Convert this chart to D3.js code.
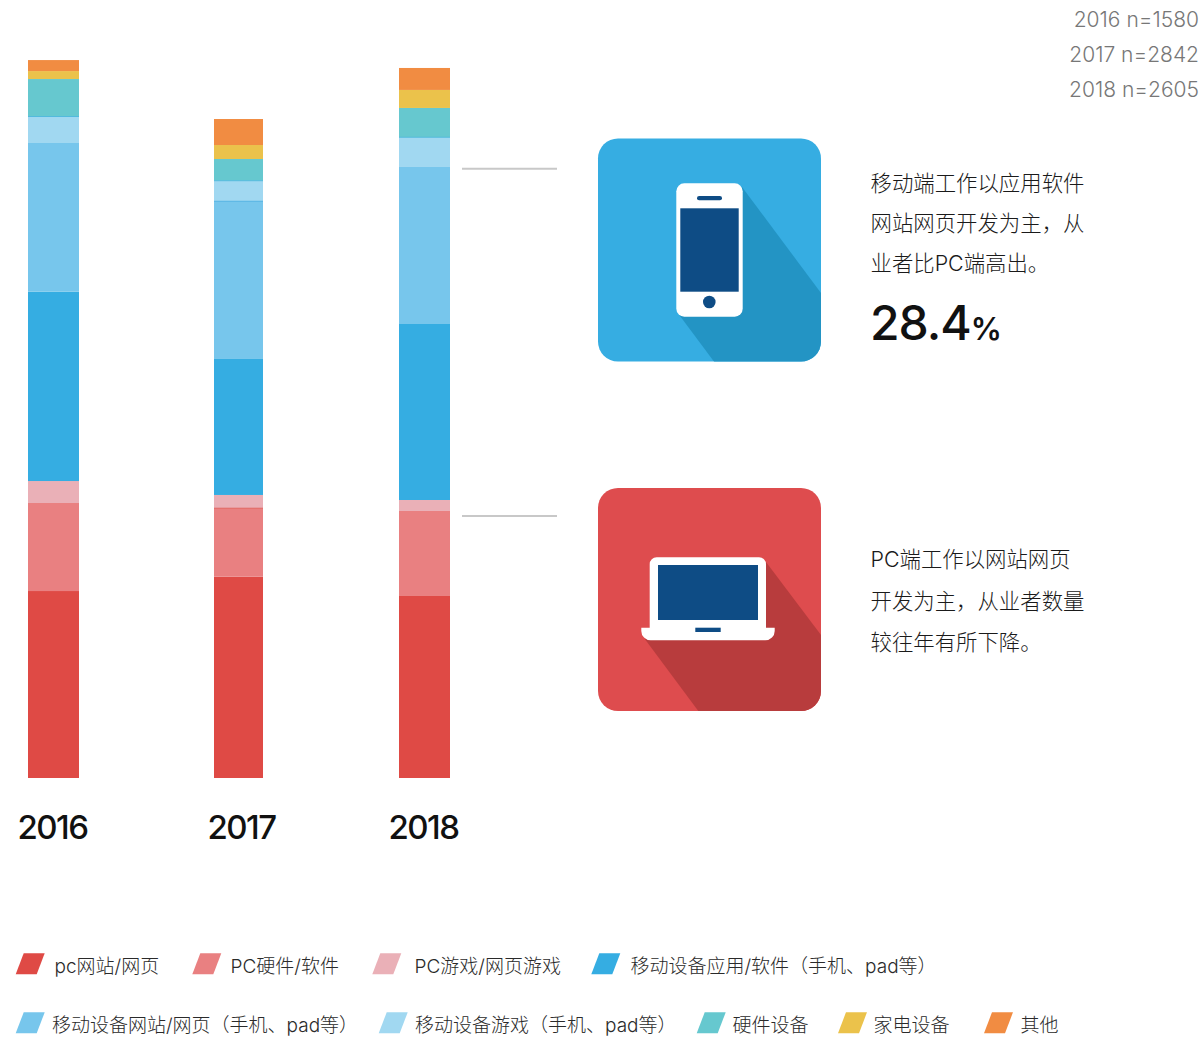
<!DOCTYPE html>
<html>
<head>
<meta charset="utf-8">
<script src="https://cdn.jsdelivr.net/npm/d3@7"></script>
<style>
  html, body { margin: 0; padding: 0; background: #fff; }
  svg { display: block; }
  text { font-family: Inter, "Noto Sans CJK SC", sans-serif; }
</style>
</head>
<body>
<svg></svg>
<script>
// the years and the categories of the stack, bottom to top
var years = ["2016", "2017", "2018"];
var categories = ["pc网站/网页", "PC硬件/软件", "PC游戏/网页游戏", "移动设备应用/软件（手机、pad等）",
  "移动设备网站/网页（手机、pad等）", "移动设备游戏（手机、pad等）", "硬件设备", "家电设备", "其他"];
var colors = ["#df4a45", "#e98081", "#eab0b7", "#35ade2", "#77c6ec", "#a1d8f1", "#66c8cf", "#ebc24b", "#f18c42"];

// as a share of the tallest bar (no axis in the original)
var values2016 = [26.04, 12.26, 3.06, 26.37, 20.71, 3.69, 5.22, 1.11, 1.53];
var values2017 = [28.04, 9.53, 1.85, 18.94, 21.96, 2.87, 3.02, 1.95, 3.62];
var values2018 = [25.35, 11.84, 1.53, 24.51, 21.87, 4.14, 4.08, 2.51, 3.06];

var sampleSizes = ["2016 n=1580", "2017 n=2842", "2018 n=2605"];
var mobileText = ["移动端工作以应用软件", "网站网页开发为主，从", "业者比PC端高出。"];
var pcText = ["PC端工作以网站网页", "开发为主，从业者数量", "较往年有所下降。"];

var width = 1204, height = 1037;
var svg = d3.select("svg").attr("width", width).attr("height", height);

var seriesByYear = {"2016": values2016, "2017": values2017, "2018": values2018};
var table = years.map(function(y) {
  var row = {year: y};
  categories.forEach(function(c, i) { row[c] = seriesByYear[y][i]; });
  return row;
});

var stack = d3.stack().keys(categories)(table);

var x = d3.scalePoint().domain(years).range([53.5, 424.5]);
var y = d3.scaleLinear().domain([0, 100]).range([778, 60]);
var barWidth = function(yr) { return yr === "2017" ? 49 : 51; };
var barLeft = function(yr) { return Math.floor(x(yr) - barWidth(yr) / 2); };

// the bars
svg.append("g").selectAll("g")
  .data(stack)
  .enter()
  .append("g")
    .attr("fill", function(d, i) { return colors[i]; })
  .selectAll("rect")
  .data(function(d) { return d; })
  .enter()
  .append("rect")
    .attr("x", function(d) { return barLeft(d.data.year); })
    .attr("width", function(d) { return barWidth(d.data.year); })
    .attr("y", function(d) { return y(d[1]); })
    .attr("height", function(d) { return y(d[0]) - y(d[1]); });

// a few segments show a thin darker seam on their top edge in the original
var seams = [
  {year: 0, layer: 5, color: "#52bade"},
  {year: 1, layer: 5, color: "#52bade"},
  {year: 1, layer: 4, color: "#52b2e3"},
  {year: 2, layer: 5, color: "#52bade"},
  {year: 1, layer: 1, color: "#e0605c"}
];
svg.append("g").selectAll("rect")
  .data(seams)
  .enter()
  .append("rect")
    .attr("x", function(d) { return barLeft(years[d.year]); })
    .attr("width", function(d) { return barWidth(years[d.year]); })
    .attr("y", function(d) { return y(stack[d.layer][d.year][1]) - 0.5; })
    .attr("height", 1)
    .attr("fill", function(d) { return d.color; });

// year labels sit a little off the bar centres
var labelShift = {"2016": -1, "2017": 2.5, "2018": -1};
svg.append("g").selectAll("text")
  .data(years)
  .enter()
  .append("text")
    .attr("x", function(d) { return x(d) + labelShift[d]; })
    .attr("y", 839)
    .attr("text-anchor", "middle")
    .attr("font-size", 33)
    .attr("font-weight", 500)
    .attr("letter-spacing", -1.5)
    .attr("fill", "#111")
    .text(function(d) { return d; });

// sample sizes, top right
svg.append("g").selectAll("text")
  .data(sampleSizes)
  .enter()
  .append("text")
    .attr("x", 1199)
    .attr("y", function(d, i) { return 27 + i * 35; })
    .attr("text-anchor", "end")
    .attr("font-size", 21)
    .attr("font-weight", 300)
    .attr("fill", "#777")
    .text(function(d) { return d; });

// connector lines
svg.append("g").selectAll("line")
  .data([168.7, 516])
  .enter()
  .append("line")
    .attr("x1", 462).attr("x2", 557)
    .attr("y1", function(d) { return d; })
    .attr("y2", function(d) { return d; })
    .attr("stroke", "#c8c8c8")
    .attr("stroke-width", 2);

var defs = svg.append("defs");

// rounded tile with a long shadow clipped to it
function tile(id, top, bg, shade, shadowPts) {
  defs.append("clipPath").attr("id", id)
    .append("rect").attr("x", 598).attr("y", top).attr("width", 223).attr("height", 223).attr("rx", 20);
  var g = svg.append("g");
  g.append("rect").attr("x", 598).attr("y", top).attr("width", 223).attr("height", 223).attr("rx", 20).attr("fill", bg);
  g.append("polygon")
    .attr("clip-path", "url(#" + id + ")")
    .attr("points", shadowPts)
    .attr("fill", shade);
  return g;
}

var navy = "#0e4c85";

// phone icon
var phone = tile("clip-phone", 138.5, "#36ade2", "#2394c4",
  "742,187 821,293 821,362 714.3,362 680,316");
phone.append("rect").attr("x", 676.3).attr("y", 183.3).attr("width", 66.4).attr("height", 133.4).attr("rx", 8).attr("fill", "#fff");
phone.append("rect").attr("x", 680.3).attr("y", 208.3).attr("width", 58.4).attr("height", 83.4).attr("fill", navy);
phone.append("rect").attr("x", 697).attr("y", 196).attr("width", 25).attr("height", 4.3).attr("rx", 2.1).attr("fill", navy);
phone.append("circle").attr("cx", 709.3).attr("cy", 302).attr("r", 6.3).attr("fill", navy);

// laptop icon
var laptop = tile("clip-laptop", 488, "#de4c4e", "#b83c3d",
  "766,562 821,635 821,711 698.3,711 645,639.3");
laptop.append("path")
  .attr("d", "M649.7,627.7V564.3a7,7 0 0 1 7,-7H759a7,7 0 0 1 7,7V627.7H774.7V631a9.3,9.3 0 0 1 -9.3,9.3H650.6a9.3,9.3 0 0 1 -9.3,-9.3V627.7Z")
  .attr("fill", "#fff");
laptop.append("rect").attr("x", 658).attr("y", 565).attr("width", 100).attr("height", 55).attr("fill", navy);
laptop.append("rect").attr("x", 695.3).attr("y", 627.7).attr("width", 25.4).attr("height", 4.3).attr("fill", navy);

// side notes
function note(lines, top, step) {
  svg.append("g").selectAll("text")
    .data(lines)
    .enter()
    .append("text")
      .attr("x", 870.5)
      .attr("y", function(d, i) { return top + i * step; })
      .attr("font-size", 21.4)
      .attr("font-weight", 300)
      .attr("fill", "#1a1a1a")
      .text(function(d) { return d; });
}
note(mobileText, 191, 40);
note(pcText, 567, 41.5);

var big = svg.append("text")
  .attr("x", 870).attr("y", 340)
  .attr("font-size", 48)
  .attr("font-weight", 500)
  .attr("letter-spacing", -1)
  .attr("fill", "#111");
big.append("tspan").text("28.4");
big.append("tspan").attr("font-size", 31).attr("font-weight", 600).text("%");

// legend, two rows of slanted swatches
var legendX = [15.7, 192.3, 372.3, 591.3, 15.7, 378.7, 696.7, 838, 984];
var legendTextX = [54.5, 230.5, 414.5, 630.5, 52, 415, 732.5, 873.5, 1020.5];
var legendY = [953.3, 953.3, 953.3, 953.3, 1012.3, 1012.3, 1012.3, 1012.3, 1012.3];

var legend = svg.append("g").selectAll("g")
  .data(categories)
  .enter()
  .append("g");

legend.append("polygon")
  .attr("points", function(d, i) {
    var l = legendX[i], t = legendY[i];
    return [[l, t + 21], [l + 8, t], [l + 29, t], [l + 21, t + 21]].join(" ");
  })
  .attr("fill", function(d, i) { return colors[i]; });

legend.append("text")
  .attr("x", function(d, i) { return legendTextX[i]; })
  .attr("y", function(d, i) { return legendY[i] + 19.7; })
  .attr("font-size", 19)
  .attr("font-weight", 300)
  .attr("fill", "#2a2a2a")
  .text(function(d) { return d; });
</script>
</body>
</html>
